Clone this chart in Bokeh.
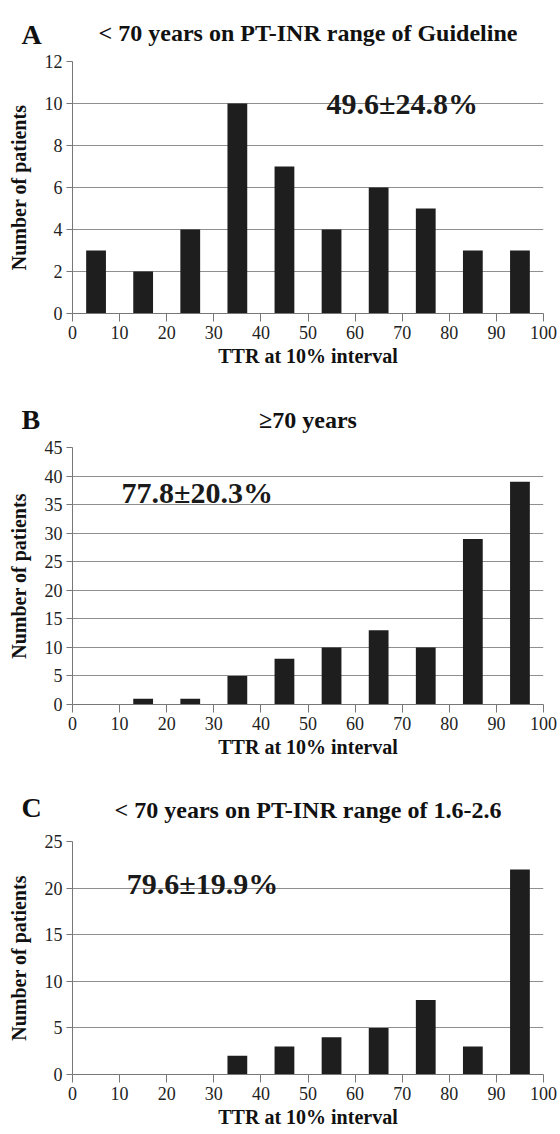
from bokeh.plotting import figure
from bokeh.layouts import column
from bokeh.models import Range1d, FixedTicker, Label, ColumnDataSource, Title
from bokeh.embed import file_html
from bokeh.resources import INLINE

# ---- data ----
bin_centers = [5, 15, 25, 35, 45, 55, 65, 75, 85, 95]
x_ticks = [0, 10, 20, 30, 40, 50, 60, 70, 80, 90, 100]
counts_a = [3, 2, 4, 10, 7, 4, 6, 5, 3, 3]
counts_b = [0, 1, 1, 5, 8, 10, 13, 10, 29, 39]
counts_c = [0, 0, 0, 2, 3, 4, 5, 8, 3, 22]
yticks_a = [0, 2, 4, 6, 8, 10, 12]
yticks_b = [0, 5, 10, 15, 20, 25, 30, 35, 40, 45]
yticks_c = [0, 5, 10, 15, 20, 25]
titles = ["< 70 years on PT-INR range of Guideline", "\u226570 years",
          "< 70 years on PT-INR range of 1.6-2.6"]
letters = ["A", "B", "C"]
stats = ["49.6\u00b124.8%", "77.8\u00b120.3%", "79.6\u00b119.9%"]
stat_pos = [(70, 10.0), (26.5, 37.2), (27.6, 20.5)]
x_label = "TTR at 10% interval"
y_label = "Number of patients"

FONT = "Times New Roman"
FRAME_W = 471

panels = [
    dict(counts=counts_a, yticks=yticks_a, ymax=12, top=61, fh=252, bottom=77, t_stand=31, l_stand=-95),
    dict(counts=counts_b, yticks=yticks_b, ymax=45, top=57, fh=257, bottom=70, t_stand=29, l_stand=-89),
    dict(counts=counts_c, yticks=yticks_c, ymax=25, top=67, fh=233, bottom=60, t_stand=37, l_stand=-93),
]

figs = []
for i, pn in enumerate(panels):
    ymax = pn["ymax"]
    fh = pn["fh"]
    p = figure(frame_width=FRAME_W, frame_height=fh,
               min_border_left=72, min_border_right=17,
               min_border_top=pn["top"], min_border_bottom=pn["bottom"],
               x_range=Range1d(0, 100), y_range=Range1d(0, ymax),
               output_backend="svg", toolbar_location=None)
    p.outline_line_color = None

    src = ColumnDataSource(dict(x=bin_centers, top=pn["counts"]))
    p.vbar(x="x", top="top", width=4.2, bottom=0, source=src,
           fill_color="#1e1e1e", line_color=None)

    p.xgrid.visible = False
    p.ygrid.grid_line_color = "#8f8f8f"
    p.yaxis.ticker = FixedTicker(ticks=pn["yticks"])
    p.xaxis.ticker = FixedTicker(ticks=x_ticks)

    for ax in (p.xaxis[0], p.yaxis[0]):
        ax.axis_line_color = "#777777"
        ax.major_tick_line_color = "#777777"
        ax.minor_tick_line_color = None
        ax.major_tick_in = 0
        ax.major_label_text_font = FONT
        ax.major_label_text_font_size = "18px"
        ax.major_label_text_color = "#222222"
        ax.axis_label_text_font = FONT
        ax.axis_label_text_font_style = "bold"
        ax.axis_label_text_font_size = "20px"
        ax.axis_label_text_color = "#111111"
    p.xaxis.major_tick_out = 8
    p.xaxis.major_label_standoff = 4
    p.xaxis.axis_label_standoff = 3
    p.yaxis.major_tick_out = 6
    p.yaxis.major_label_standoff = 4
    p.yaxis.axis_label_standoff = 12
    p.xaxis.axis_label = x_label
    p.yaxis.axis_label = y_label

    p.add_layout(Title(text=titles[i], text_font=FONT, text_font_style="bold",
                       text_font_size="24px", align="center",
                       standoff=pn["t_stand"], text_color="#111111"), "above")
    p.add_layout(Title(text=letters[i], text_font=FONT, text_font_style="bold",
                       text_font_size="28px", align="left", offset=-51,
                       standoff=pn["l_stand"], text_color="#111111"), "above")
    sx, sy = stat_pos[i]
    p.add_layout(Label(x=sx, y=sy, text=stats[i], text_font=FONT,
                       text_font_style="bold", text_font_size="30px",
                       text_align="center", text_baseline="middle",
                       text_color="#1a1a1a"))
    figs.append(p)

layout = column(*figs, spacing=0)
open("out.html", "w").write(file_html(layout, INLINE))
